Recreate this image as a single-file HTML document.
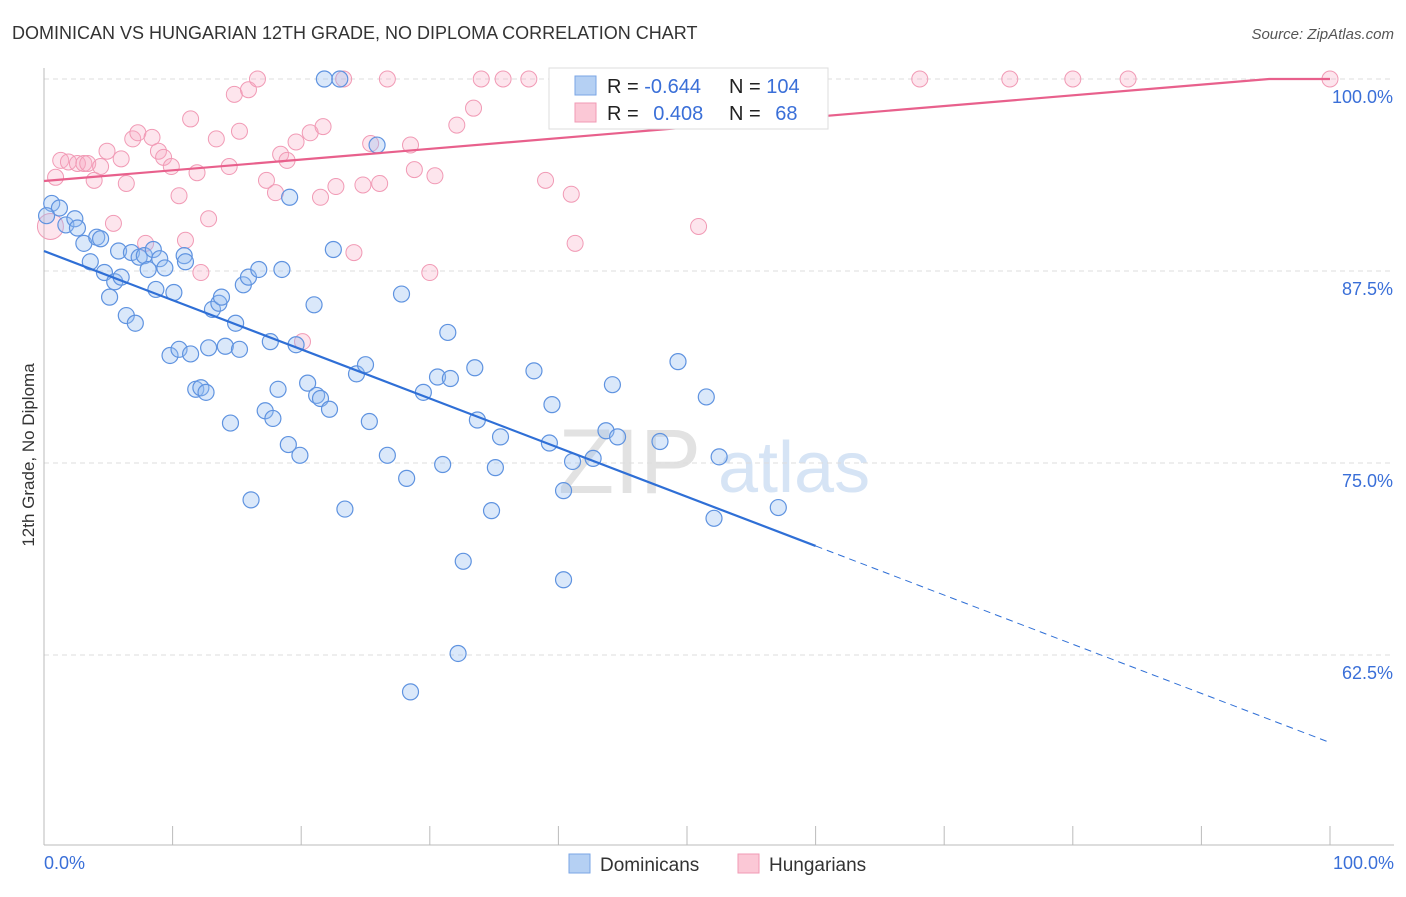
<!DOCTYPE html>
<html><head><meta charset="utf-8"><style>
body{margin:0;background:#fff;font-family:"Liberation Sans",sans-serif;}
svg text{font-family:"Liberation Sans",sans-serif;}
</style></head><body>
<svg id="chart" width="1406" height="892" xmlns="http://www.w3.org/2000/svg">
<text x="12" y="39" font-size="18" fill="#333">DOMINICAN VS HUNGARIAN 12TH GRADE, NO DIPLOMA CORRELATION CHART</text>
<text x="1394" y="39" font-size="15" fill="#555" text-anchor="end" font-style="italic">Source: ZipAtlas.com</text>
<text transform="translate(34,455) rotate(-90)" font-size="17" fill="#333" text-anchor="middle">12th Grade, No Diploma</text>
<g>
<text x="558" y="493" font-size="92" fill="#e2e2e2" font-family="Liberation Serif">ZIP</text>
<text x="718" y="492" font-size="72" fill="#d6e4f5">atlas</text>
</g>
<g id="grid"></g><g id="axes"></g><g id="pts"></g><g id="lines"></g>
<g>
<rect x="549" y="68" width="279" height="61" fill="#fff" stroke="#ddd"/>
<rect x="575" y="76" width="21" height="19" fill="#b5d0f3" stroke="#7aa6e6"/>
<rect x="575" y="103" width="21" height="19" fill="#fbc8d6" stroke="#f09ab4"/>
<text x="607" y="93" font-size="20" fill="#222">R = <tspan fill="#3a6fd8">-0.644</tspan></text>
<text x="729" y="93" font-size="20" fill="#222">N = <tspan fill="#3a6fd8">104</tspan></text>
<text x="607" y="120" font-size="20" fill="#222">R = <tspan fill="#3a6fd8" dx="9">0.408</tspan></text>
<text x="729" y="120" font-size="20" fill="#222">N = <tspan fill="#3a6fd8" dx="9">68</tspan></text>
</g>
<g>
<rect x="569" y="854" width="21" height="19" fill="#b5d0f3" stroke="#7aa6e6"/>
<text x="600" y="871" font-size="19" fill="#333">Dominicans</text>
<rect x="738" y="854" width="21" height="19" fill="#fbc8d6" stroke="#f09ab4"/>
<text x="769" y="871" font-size="19" fill="#333">Hungarians</text>
</g>
</svg>
<script>
const yTicks=[100,87.5,75,62.5];
const yTickLabels=["100.0%","87.5%","75.0%","62.5%"];
const blueX=[0.6,1.2,1.7,2.4,2.6,3.1,3.6,4.1,4.4,4.7,5.1,5.5,5.8,6.0,6.4,6.8,7.1,7.4,7.8,8.1,8.5,8.7,9.0,9.4,9.8,10.1,10.5,10.9,11.0,11.4,11.8,12.2,12.6,12.8,13.1,13.6,13.8,14.1,14.5,14.9,15.2,15.5,15.9,16.1,16.7,17.2,17.6,17.8,18.2,18.5,19.0,19.1,19.6,19.9,20.5,21.0,21.2,21.5,22.2,21.8,23.0,22.5,23.4,24.3,25.0,25.3,25.9,26.7,27.8,28.2,28.5,29.5,30.6,31.0,31.4,31.6,32.2,32.6,33.5,33.7,34.8,35.1,35.5,38.1,39.5,39.3,40.4,40.4,41.1,42.7,43.7,44.2,44.6,47.9,49.3,51.5,52.1,52.5,57.1,0.2];
const blueY=[91.9,91.6,90.5,90.9,90.3,89.3,88.1,89.7,89.6,87.4,85.8,86.8,88.8,87.1,84.6,88.7,84.1,88.4,88.5,87.6,88.9,86.3,88.3,87.7,82.0,86.1,82.4,88.5,88.1,82.1,79.8,79.9,79.6,82.5,85.0,85.4,85.8,82.6,77.6,84.1,82.4,86.6,87.1,72.6,87.6,78.4,82.9,77.9,79.8,87.6,76.2,92.3,82.7,75.5,80.2,85.3,79.4,79.2,78.5,100,100,88.9,72.0,80.8,81.4,77.7,95.7,75.5,86.0,74.0,60.1,79.6,80.6,74.9,83.5,80.5,62.6,68.6,81.2,77.8,71.9,74.7,76.7,81.0,78.8,76.3,67.4,73.2,75.1,75.3,77.1,80.1,76.7,76.4,81.6,79.3,71.4,75.4,72.1,91.1];
const pinkX=[0.5,0.9,1.3,1.9,2.6,3.1,3.4,3.9,4.4,4.9,5.4,6.0,6.4,6.9,7.3,7.9,8.4,8.9,9.3,9.9,10.5,11.0,11.4,11.9,12.2,12.8,13.4,14.4,14.8,15.2,15.9,16.6,17.3,18.0,18.4,18.9,19.6,20.1,20.7,21.5,21.7,22.7,23.3,24.1,24.8,25.4,26.1,26.7,28.5,28.8,30.0,30.4,32.1,33.4,34.0,35.7,37.7,39.0,41.0,41.3,50.9,53.7,68.1,75.1,80.0,84.3,100];
const pinkY=[90.4,93.6,94.7,94.6,94.5,94.5,94.5,93.4,94.3,95.3,90.6,94.8,93.2,96.1,96.5,89.3,96.2,95.3,94.9,94.3,92.4,89.5,97.4,93.9,87.4,90.9,96.1,94.3,99.0,96.6,99.3,100,93.4,92.6,95.1,94.7,95.9,82.9,96.5,92.3,96.9,93.0,100,88.7,93.1,95.8,93.2,100,95.7,94.1,87.4,93.7,97.0,98.1,100,100,100,93.4,92.5,89.3,90.4,100,100,100,100,100,100];
const blueFit=[88.8,-0.32];
const pinkFit=[93.36,0.0697];
const NS="http://www.w3.org/2000/svg";
const X=v=>44+v*12.86, Y=v=>79+(100-v)*15.36;
function mk(t,a,p){const e=document.createElementNS(NS,t);for(const k in a)e.setAttribute(k,a[k]);p.appendChild(e);return e;}
const grid=document.getElementById('grid'),axes=document.getElementById('axes'),pts=document.getElementById('pts'),lines=document.getElementById('lines');
yTicks.forEach((t,i)=>{
 const l=mk('line',{x1:44,x2:1394,y1:Y(t),y2:Y(t),stroke:'#ddd','stroke-dasharray':'5,4'},grid);
 
 
 const tx=mk('text',{x:1393,y:Y(t)+24,'font-size':18,fill:'#3a6fd8','text-anchor':'end'},axes);tx.textContent=yTickLabels[i];
 
 
});
mk('line',{x1:44,x2:44,y1:68,y2:845,stroke:'#bbb'},axes);
mk('line',{x1:44,x2:1394,y1:845,y2:845,stroke:'#bbb'},axes);
for(let i=0;i<=10;i++){const t=mk('line',{x1:X(i*10),x2:X(i*10),y1:826,y2:845,stroke:'#bbb'},axes);
 
 }
let a=mk('text',{x:44,y:869,'font-size':18,fill:'#3a6fd8'},axes);a.textContent='0.0%';


a=mk('text',{x:1394,y:869,'font-size':18,fill:'#3a6fd8','text-anchor':'end'},axes);a.textContent='100.0%';


pinkX.forEach((x,i)=>{const c=mk('circle',{cx:X(x),cy:Y(pinkY[i]),r:i==0?13:8,fill:'rgba(248,170,196,0.3)',stroke:'#f19ab5','stroke-width':1},pts);
 
 });
blueX.forEach((x,i)=>{const c=mk('circle',{cx:X(x),cy:Y(blueY[i]),r:8,fill:'rgba(150,190,240,0.35)',stroke:'#5f93e0','stroke-width':1.2},pts);
 
 });
const by=x=>blueFit[0]+blueFit[1]*x;
let l=mk('line',{x1:X(0),y1:Y(by(0)),x2:X(60),y2:Y(by(60)),stroke:'#2f6fd6','stroke-width':2.2},lines);


l=mk('line',{x1:X(60),y1:Y(by(60)),x2:X(100),y2:Y(by(100)),stroke:'#2f6fd6','stroke-width':1,'stroke-dasharray':'7,5'},lines);


const py=x=>Math.min(100,pinkFit[0]+pinkFit[1]*x);
const xe=(100-pinkFit[0])/pinkFit[1];
l=mk('polyline',{points:`${X(0)},${Y(py(0))} ${X(xe)},${Y(100)} ${X(100)},${Y(py(100))}`,fill:'none',stroke:'#e8608c','stroke-width':2.2},lines);


</script>
</body></html>
